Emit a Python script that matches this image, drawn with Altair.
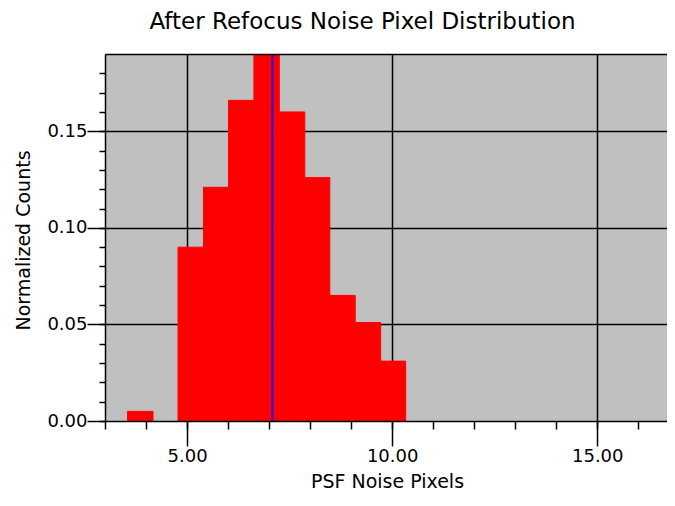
import altair as alt
import pandas as pd

# Histogram bins (PSF noise pixels) and normalized counts
bin_start = [3.55, 4.78, 5.40, 6.01, 6.63, 7.25, 7.87, 8.48, 9.10, 9.72]
bin_end = [4.17, 5.40, 6.01, 6.63, 7.25, 7.87, 8.48, 9.10, 9.72, 10.33]
counts = [0.005, 0.090, 0.121, 0.166, 0.195, 0.160, 0.126, 0.065, 0.051, 0.031]
mean_value = [7.08]

# Tick values
x_major = [5, 10, 15]
x_minor = [3, 4, 5, 6, 7, 8, 9, 10, 11, 12, 13, 14, 15, 16]
y_major = [0.0, 0.05, 0.10, 0.15]
y_grid = [0.05, 0.10, 0.15]
y_minor = [0.0, 0.01, 0.02, 0.03, 0.04, 0.05, 0.06, 0.07, 0.08, 0.09,
           0.10, 0.11, 0.12, 0.13, 0.14, 0.15, 0.16, 0.17, 0.18]

bars_df = pd.DataFrame({"start": bin_start, "end": bin_end, "count": counts})
mean_df = pd.DataFrame({"mean": mean_value})

FONT = "DejaVu Sans"
xscale = alt.Scale(domain=[3, 16.70], nice=False, zero=False)
yscale = alt.Scale(domain=[0, 0.19], nice=False, zero=True)

grid_x = alt.Axis(values=x_major, grid=True, gridColor="black", gridWidth=1.5,
                  gridOpacity=1, domain=False, ticks=False, labels=False,
                  title=None, zindex=0, orient="bottom")
grid_y = alt.Axis(values=y_grid, grid=True, gridColor="black", gridWidth=1.5,
                  gridOpacity=1, domain=False, ticks=False, labels=False,
                  title=None, zindex=0, orient="left")

major_x = alt.Axis(values=x_major, format=".2f", grid=False, orient="bottom",
                   domain=True, domainColor="black", domainWidth=1.5,
                   ticks=True, tickColor="black", tickSize=25, tickWidth=1.5,
                   labelPadding=1, labelFont=FONT, labelFontSize=18,
                   labelColor="black", labelFlush=False, labelOverlap=False,
                   title="PSF Noise Pixels", titleFont=FONT, titleFontSize=19,
                   titleFontWeight="normal", titleColor="black",
                   titleBaseline="alphabetic", titleY=66, titleX=282,
                   zindex=1)
minor_x = alt.Axis(values=x_minor, grid=False, orient="bottom", domain=False,
                   ticks=True, tickColor="black", tickSize=8, tickWidth=1.5,
                   labels=False, title=None, zindex=1)
# top frame line, carrying the chart title
top_x = alt.Axis(orient="top", grid=False, domain=True, domainColor="black",
                 domainWidth=1.5, ticks=False, labels=False,
                 title="After Refocus Noise Pixel Distribution",
                 titleFont=FONT, titleFontSize=23, titleFontWeight="normal",
                 titleColor="black", titleBaseline="alphabetic",
                 titleAlign="center", titleAngle=0,
                 titleY=-26, titleX=257, zindex=1)

major_y = alt.Axis(values=y_major, format=".2f", grid=False, orient="left",
                   domain=True, domainColor="black", domainWidth=1.5,
                   ticks=True, tickColor="black", tickSize=18, tickWidth=1.5,
                   labelPadding=0, labelFont=FONT, labelFontSize=18,
                   labelColor="black", labelFlush=False, labelOverlap=False,
                   title="Normalized Counts", titleFont=FONT, titleFontSize=19,
                   titleFontWeight="normal", titleColor="black",
                   titleBaseline="alphabetic", titleAngle=270,
                   titleX=-76, titleY=186, zindex=1)
minor_y = alt.Axis(values=y_minor, grid=False, orient="left", domain=False,
                   ticks=True, tickColor="black", tickSize=6, tickWidth=1.5,
                   labels=False, title=None, zindex=1)

bars = alt.Chart(bars_df).mark_rect(
    color="#ff0000", stroke="#ff0000", strokeWidth=1, clip=True
).encode(
    x=alt.X("start:Q", scale=xscale, axis=grid_x),
    x2="end:Q",
    y=alt.Y("count:Q", scale=yscale, axis=grid_y),
    y2=alt.datum(0),
)

rule = alt.Chart(mean_df).mark_rule(color="#1010ff", strokeWidth=2).encode(
    x=alt.X("mean:Q", scale=xscale, axis=major_x)
)

ax1 = alt.Chart(bars_df).transform_filter("datum.count < 0.1").mark_point(
    opacity=0, size=1
).encode(
    x=alt.X("start:Q", scale=xscale, axis=minor_x),
    y=alt.Y("count:Q", scale=yscale, axis=major_y),
)

ax2 = alt.Chart(bars_df).transform_filter("datum.count < 0.1").mark_point(
    opacity=0, size=1
).encode(
    x=alt.X("start:Q", scale=xscale, axis=top_x),
    y=alt.Y("count:Q", scale=yscale, axis=minor_y),
)

chart = alt.layer(bars, rule, ax1, ax2).resolve_axis(
    x="independent", y="independent"
).properties(
    width=562,
    height=367,
    padding={"left": 97, "top": 46, "right": 0, "bottom": 72},
    autosize=alt.AutoSizeParams(type="none"),
).configure_view(fill="#c0c0c0", stroke=None)

chart.save("out.html", embed_options={"renderer": "svg", "actions": False})
